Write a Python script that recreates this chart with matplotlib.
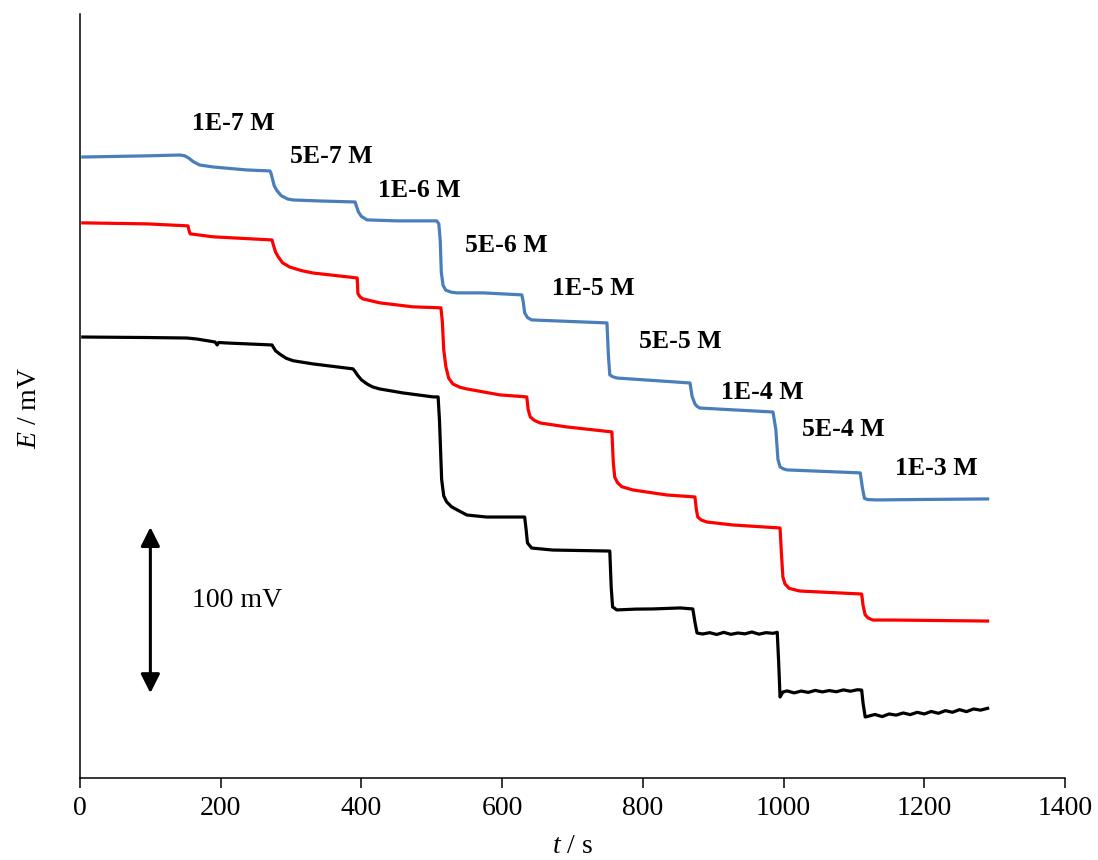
import matplotlib
matplotlib.use("Agg")
import matplotlib.pyplot as plt

plt.rcParams['font.family'] = ['Liberation Serif', 'DejaVu Serif']
plt.rcParams['mathtext.fontset'] = 'custom'
plt.rcParams['mathtext.rm'] = 'Liberation Serif'
plt.rcParams['mathtext.it'] = 'Liberation Serif:italic'

# ---------------- data (time in s, potential in mV, arbitrary offset) ----------------
t_blue = [4, 95, 142, 149, 155, 161, 170, 189, 237, 270, 271.5, 273, 276, 280, 286, 295, 303, 341,
          391, 393, 396, 400, 408, 451, 507, 510, 512, 513.5, 516, 520, 528, 536, 573, 628,
          630, 632, 636, 642, 749, 751, 753, 757, 763, 867, 870, 874, 877, 881, 985, 989,
          992, 995, 1000, 1005, 1109, 1112, 1115, 1120, 1133, 1200, 1290]
E_blue = [374.3, 375.0, 375.5, 375.0, 373.5, 371.5, 369.5, 368.3, 366.5, 365.9, 364.5, 362.0, 357.0,
          354.0, 351.0, 349.0, 348.4, 347.8, 347.2, 344.5, 341.0, 338.5, 336.4, 335.8, 335.8, 334.0,
          324.0, 305.0, 297.0, 294.0, 292.8, 292.4, 292.4, 291.2, 287.0, 280.4, 277.5, 276.1, 274.3,
          255.0, 243.0, 241.9, 241.1, 238.1, 230.0, 225.5, 224.0, 223.0, 220.6, 210.0, 192.0, 187.5,
          186.3, 185.7, 183.9, 175.0, 168.5, 167.8, 167.6, 167.9, 168.2]

t_red = [4, 95, 153.5, 155, 156.5, 189, 273, 275, 278, 282, 288, 298, 315, 331, 394, 395, 398, 402,
         426, 473, 513, 515, 517, 520, 524, 530, 540, 550, 597, 635, 637, 640, 646, 654, 692,
         756, 758, 760, 764, 770, 786, 834, 874, 876, 878, 883, 891, 928, 995, 997, 999, 1002,
         1008, 1023, 1111, 1113, 1116, 1120, 1127, 1156, 1290]
E_red = [334.6, 334.0, 332.8, 330.0, 328.0, 326.2, 324.3, 321.0, 317.0, 314.0, 310.5, 308.0, 305.8,
         304.4, 301.4, 292.0, 290.0, 288.8, 286.4, 284.0, 283.4, 275.0, 258.0, 248.0, 241.0, 237.5,
         235.5, 234.5, 230.9, 229.7, 222.0, 217.6, 215.5, 214.0, 211.6, 208.6, 190.0, 181.4, 178.0,
         175.6, 173.6, 170.6, 169.4, 162.0, 157.3, 155.5, 154.3, 152.5, 150.7, 135.0, 121.2, 117.0,
         114.3, 112.7, 110.9, 104.0, 98.3, 96.5, 95.2, 95.2, 94.6]

t_black = [4, 95, 152, 166, 192, 195, 197, 209, 273, 275, 278, 284, 293, 303, 331, 388, 391, 395,
           400, 408, 416, 426, 459, 502, 509, 511, 514, 517, 521, 528, 536, 550, 578, 632, 634,
           636, 642, 672, 753, 755, 757, 763, 790, 814, 853, 871, 874, 877, 885, 895, 905, 915,
           925, 935, 945, 955, 965, 975, 985, 991, 993, 995, 999, 1005, 1015, 1025, 1035, 1045,
           1055, 1065, 1075, 1085, 1095, 1105, 1111, 1113, 1116, 1120, 1130, 1140, 1150, 1160,
           1170, 1180, 1190, 1200, 1210, 1220, 1230, 1240, 1250, 1260, 1270, 1280, 1290]
E_black = [265.8, 265.5, 265.2, 264.6, 262.8, 261.0, 262.5, 262.2, 261.0, 259.5, 257.5, 255.5, 253.0,
           251.5, 249.6, 246.6, 245.0, 242.5, 240.0, 237.5, 235.7, 234.5, 232.1, 229.7, 229.7, 215.0,
           180.0, 170.0, 166.5, 163.5, 161.6, 158.5, 157.3, 157.3, 150.0, 141.7, 138.6, 137.4, 136.8,
           115.0, 103.1, 101.3, 101.8, 101.9, 102.5, 101.9, 94.0, 87.4, 86.8, 87.6, 86.5, 87.8, 86.6,
           87.4, 86.9, 88.0, 86.7, 87.6, 87.2, 87.8, 70.0, 48.8, 51.8, 52.5, 51.3, 52.4, 51.6, 52.8,
           51.9, 52.7, 52.0, 53.1, 52.3, 53.2, 53.0, 45.0, 36.8, 37.2, 38.3, 37.0, 38.6, 37.9, 39.2,
           38.2, 39.6, 38.6, 40.1, 39.0, 40.6, 39.6, 41.2, 40.0, 41.6, 40.9, 42.0]

conc_labels = ['1E-7 M', '5E-7 M', '1E-6 M', '5E-6 M', '1E-5 M', '5E-5 M', '1E-4 M', '5E-4 M', '1E-3 M']
label_t = [159, 298.5, 423.5, 547, 671, 794.5, 911, 1026, 1158]
label_E = [390.6, 370.7, 350.2, 317.1, 291.2, 259.2, 228.5, 206.2, 182.6]

x_ticks = [0, 200, 400, 600, 800, 1000, 1200, 1400]

scale_t = 100
scale_E = [51.2, 151.2]

# ---------------- figure ----------------
fig = plt.figure(figsize=(10.98, 8.6), dpi=100)
ax = fig.add_axes([80/1098, 82/860, 985/1098, 764/860])

ax.plot(t_blue, E_blue, color='#4A7EBB', lw=2.3, solid_joinstyle='round')
ax.plot(t_red, E_red, color='#FF0000', lw=2.3, solid_joinstyle='round')
ax.plot(t_black, E_black, color='black', lw=2.3, solid_joinstyle='round')

for lab, tx, ey in zip(conc_labels, label_t, label_E):
    ax.text(tx, ey, lab, fontsize=18.5, fontweight='bold', ha='left', va='baseline')

ax.annotate('', xy=(scale_t, scale_E[1]), xytext=(scale_t, scale_E[0]),
            arrowprops=dict(arrowstyle='<|-|>,head_length=11.5,head_width=5.8',
                            mutation_scale=1, color='black', lw=2.2,
                            shrinkA=0, shrinkB=0))
ax.text(159, 103.1, '100 mV', fontsize=20, ha='left', va='baseline')

ax.set_xlim(0, 1400)
ax.set_ylim(0, 460.5)
ax.set_xticks(x_ticks)
ax.set_xticklabels([str(v) for v in x_ticks])
ax.set_yticks([])
ax.tick_params(axis='x', direction='out', length=7, width=1.1, pad=6, labelsize=20)
for s in ['top', 'right']:
    ax.spines[s].set_visible(False)
for s in ['left', 'bottom']:
    ax.spines[s].set_linewidth(1.1)

fig.text(573/1098, 7/860, r'$\mathit{t}$ / s', fontsize=20, ha='center', va='baseline')
fig.text(30/1098, 1 - 408/860, r'$\mathit{E}$ / mV', fontsize=20, ha='center', va='center',
         rotation=90)

fig.savefig('out.png', dpi=100)
